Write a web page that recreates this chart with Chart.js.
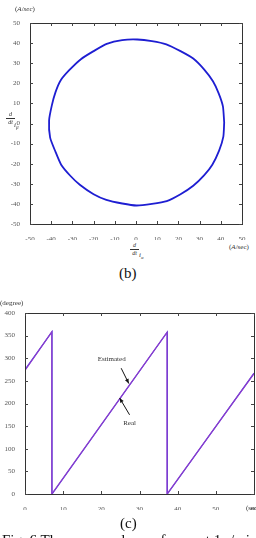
<!DOCTYPE html>
<html>
<head>
<meta charset="utf-8">
<script src="https://cdn.jsdelivr.net/npm/chart.js@4"></script>
<style>
  html, body { margin:0; padding:0; background:#fff; width:256px; height:538px; overflow:hidden; position:relative; }
  canvas { position:absolute; left:0; }
  .t { position:absolute; font-family:"Liberation Serif", serif; color:#333; white-space:nowrap; line-height:1; }
  .s { font-size:7px; }
  .cap { font-size:15px; color:#111; }
  .frac { position:absolute; font-family:"Liberation Serif", serif; font-size:6px; color:#333; text-align:center; line-height:1; font-style:italic; }
</style>
</head>
<body>
<div style="position:absolute;left:0;top:0;width:256px;height:245px;"><canvas id="c1" width="256" height="240" style="top:0;"></canvas></div>
<canvas id="c2" width="275" height="210" style="top:300px;"></canvas>

<div class="t s" style="left:15px;top:6px;">(<i>A</i>/<i>sec</i>)</div>
<div class="frac" style="left:6px;top:111px;width:9px;">d<div style="border-top:0.8px solid #333;margin-top:1px;">dt</div></div>
<div class="t s" style="left:14px;top:122px;font-style:italic;">i<sub style="font-size:5px;">β</sub></div>

<div class="frac" style="left:130px;top:242px;width:9px;">d<div style="border-top:0.8px solid #333;margin-top:1px;">dt</div></div>
<div class="t s" style="left:139px;top:252px;font-style:italic;">i<sub style="font-size:5px;">α</sub></div>
<div class="t s" style="left:229px;top:244px;">(<i>A</i>/sec)</div>
<div class="t cap" style="left:119px;top:266px;">(b)</div>

<div class="t s" style="left:0px;top:300px;">(degree)</div>
<div class="t s" style="left:246px;top:505px;">(sec)</div>
<div class="t cap" style="left:120px;top:516px;">(c)</div>
<div class="t cap" style="left:2px;top:533px;">Fig. 6 The measured waveforms at 1 r/min</div>

<script>
// ---- Data: panel (b) current-derivative trajectory ----
const circleX = [41.6, 41.0, 39.0, 36.3, 32.2, 27.0, 21.0, 14.3, 7.5, 0.6, -6.5, -13.8, -20.0, -26.0, -31.5, -35.5, -38.0, -39.7, -41.0, -40.5, -38.0, -35.3, -31.0, -26.5, -20.0, -14.0, -6.5, 0.2, 7.5, 14.5, 21.0, 27.0, 32.2, 36.0, 39.2, 41.2, 41.6];
const circleY = [0.5, 8.5, 15.0, 21.0, 26.8, 32.3, 36.0, 39.4, 41.0, 41.8, 41.5, 39.6, 36.0, 32.0, 26.5, 21.5, 15.5, 9.0, 1.5, -7.0, -14.0, -20.5, -26.0, -30.5, -35.2, -38.0, -39.8, -40.8, -40.0, -38.6, -35.2, -31.0, -25.7, -20.5, -13.5, -6.5, 0.5];
const bTicks = [-50, -40, -30, -20, -10, 0, 10, 20, 30, 40, 50];

// ---- Data: panel (c) rotor angle ----
const timeReal = [0, 7.0, 7.0, 37.2, 37.2, 60];
const angleReal = [273, 358, 0, 357, 0, 266];
const timeEst = [0, 7.1, 7.1, 37.3, 37.3, 60];
const angleEst = [275, 359, 0, 358, 0, 267];
const cXTicks = [0, 10, 20, 30, 40, 50, 60];
const cYTicks = [0, 50, 100, 150, 200, 250, 300, 350, 400];
// annotations: [label, textX, textY, arrowFromX, arrowFromY, arrowToX, arrowToY]
const notes = [
  ["Estimated", 22.7, 297, 25.2, 278, 27.2, 244],
  ["Real", 27.4, 157, 27.4, 175, 24.8, 212]
];

const tickFont = { family: "Liberation Serif", size: 7 };
const tickColor = "#555";

const frameTicks = {
  id: 'frameTicks',
  afterDraw(chart) {
    const ctx = chart.ctx, a = chart.chartArea;
    const xs = chart.scales.x, ys = chart.scales.y;
    ctx.save();
    ctx.strokeStyle = '#333';
    ctx.lineWidth = 1;
    ctx.strokeRect(Math.round(a.left) + 0.5, Math.round(a.top) + 0.5, Math.round(a.right - a.left), Math.round(a.bottom - a.top));
    ctx.strokeStyle = '#444';
    const L = 3;
    xs.ticks.forEach(t => {
      const p = Math.round(xs.getPixelForValue(t.value)) + 0.5;
      ctx.beginPath();
      ctx.moveTo(p, a.bottom); ctx.lineTo(p, a.bottom - L);
      ctx.moveTo(p, a.top); ctx.lineTo(p, a.top + L);
      ctx.stroke();
    });
    ys.ticks.forEach(t => {
      const p = Math.round(ys.getPixelForValue(t.value)) + 0.5;
      ctx.beginPath();
      ctx.moveTo(a.left, p); ctx.lineTo(a.left + L, p);
      ctx.moveTo(a.right, p); ctx.lineTo(a.right - L, p);
      ctx.stroke();
    });
    ctx.restore();
  }
};

const notesPlugin = {
  id: 'notesPlugin',
  afterDatasetsDraw(chart) {
    const list = chart.options.plugins.notesPlugin && chart.options.plugins.notesPlugin.items;
    if (!list) return;
    const ctx = chart.ctx, xs = chart.scales.x, ys = chart.scales.y;
    ctx.save();
    list.forEach(n => {
      const [txt, tx, ty, fx, fy, ex, ey] = n;
      ctx.font = '7px "Liberation Serif"';
      ctx.fillStyle = '#333';
      ctx.textAlign = 'center';
      ctx.textBaseline = 'middle';
      ctx.fillText(txt, xs.getPixelForValue(tx), ys.getPixelForValue(ty));
      const x1 = xs.getPixelForValue(fx), y1 = ys.getPixelForValue(fy);
      const x2 = xs.getPixelForValue(ex), y2 = ys.getPixelForValue(ey);
      ctx.strokeStyle = '#111'; ctx.lineWidth = 1;
      ctx.beginPath(); ctx.moveTo(x1, y1); ctx.lineTo(x2, y2); ctx.stroke();
      const ang = Math.atan2(y2 - y1, x2 - x1), h = 5;
      ctx.fillStyle = '#111';
      ctx.beginPath();
      ctx.moveTo(x2, y2);
      ctx.lineTo(x2 - h * Math.cos(ang - 0.4), y2 - h * Math.sin(ang - 0.4));
      ctx.lineTo(x2 - h * Math.cos(ang + 0.4), y2 - h * Math.sin(ang + 0.4));
      ctx.closePath(); ctx.fill();
    });
    ctx.restore();
  }
};

function axis(min, max, ticks, isY, size, pad) {
  return {
    type: 'linear', min, max,
    grid: { display: false }, border: { display: false },
    afterBuildTicks: s => { s.ticks = ticks.map(v => ({ value: v })); },
    afterFit: s => { if (isY) s.width = size; else s.height = size; },
    ticks: { font: tickFont, color: tickColor, padding: pad, autoSkip: false, maxRotation: 0 }
  };
}

new Chart(document.getElementById('c1'), {
  type: 'scatter',
  data: {
    datasets: [{
      data: circleX.map((x, i) => ({ x, y: circleY[i] })),
      showLine: true, borderColor: '#1e1ed2', borderWidth: 1.8, pointRadius: 0, tension: 0.2, fill: false
    }]
  },
  options: {
    responsive: false, animation: false,
    layout: { padding: { top: 23, right: 14, left: 0, bottom: 0 } },
    plugins: { legend: { display: false }, tooltip: { enabled: false } },
    scales: {
      x: axis(-50, 50, bTicks, false, 16, 3),
      y: axis(-50, 50, bTicks, true, 30, 2)
    }
  },
  plugins: [frameTicks]
});

new Chart(document.getElementById('c2'), {
  type: 'scatter',
  data: {
    datasets: [
      { data: timeReal.map((x, i) => ({ x, y: angleReal[i] })), showLine: true, borderColor: '#8a3ccf', borderWidth: 1.2, pointRadius: 0, tension: 0 },
      { data: timeEst.map((x, i) => ({ x, y: angleEst[i] })), showLine: true, borderColor: '#5b3fd6', borderWidth: 1.2, pointRadius: 0, tension: 0 }
    ]
  },
  options: {
    responsive: false, animation: false,
    layout: { padding: { top: 13, right: 21, left: 0, bottom: 0 } },
    plugins: { legend: { display: false }, tooltip: { enabled: false }, notesPlugin: { items: notes } },
    scales: {
      x: axis(0, 60, cXTicks, false, 16, 3),
      y: axis(0, 400, cYTicks, true, 25, 2)
    }
  },
  plugins: [frameTicks, notesPlugin]
});
</script>
</body>
</html>
